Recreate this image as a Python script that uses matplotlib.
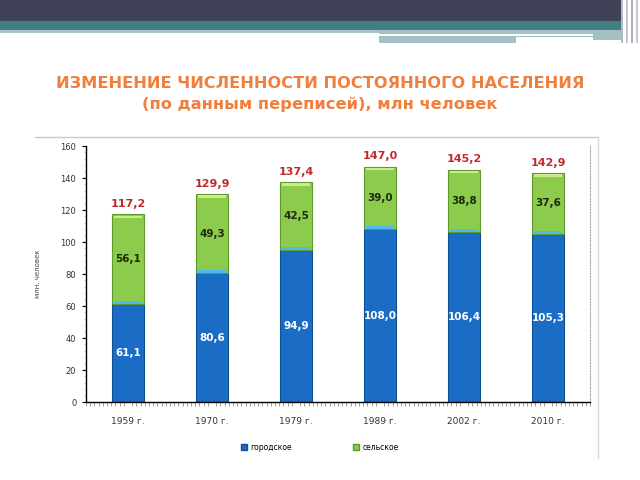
import matplotlib
matplotlib.use("Agg")
import matplotlib.pyplot as plt
from matplotlib.patches import Rectangle
import numpy as np

years = ["1959 г.", "1970 г.", "1979 г.", "1989 г.", "2002 г.", "2010 г."]
urban = [61.1, 80.6, 94.9, 108.0, 106.4, 105.3]
rural = [56.1, 49.3, 42.5, 39.0, 38.8, 37.6]
totals = [117.2, 129.9, 137.4, 147.0, 145.2, 142.9]
yticks = [0, 20, 40, 60, 80, 100, 120, 140, 160]

def fmt(v):
    return f"{v:.1f}".replace(".", ",")

fig = plt.figure(figsize=(6.4, 4.8), dpi=100)
W, H = 640, 480
def R(x, y, w, h, c, **kw):
    fig.patches.append(Rectangle((x / W, 1 - (y + h) / H), w / W, h / H,
                                 transform=fig.transFigure, color=c, lw=0, **kw))

# slide header
R(0, 0, 621, 21, "#404257")
R(0, 21, 622, 9, "#437f82")
R(0, 30, 379, 3, "#a7c4c6")
R(379, 30, 243, 10, "#a3c1c3")
R(379, 34, 214, 2, "#ffffff")
R(379, 37, 214, 3, "#ffffff")
R(379, 37, 137, 6, "#a6c0c3")
for xx, c in [(621, "#b8b8c4"), (626, "#c4c4ce"), (631, "#b0b0bc"), (636, "#c8c8d2")]:
    R(xx, 0, 1.5, 43, c)

# title
fig.text(0.5, 1 - 83 / H, "ИЗМЕНЕНИЕ ЧИСЛЕННОСТИ ПОСТОЯННОГО НАСЕЛЕНИЯ",
         ha="center", va="center", color="#f07f3e", fontsize=11.7,
         fontweight="bold", family="DejaVu Sans")
fig.text(0.5, 1 - 104 / H, "(по данным переписей), млн человек",
         ha="center", va="center", color="#f07f3e", fontsize=11.7,
         fontweight="bold", family="DejaVu Sans")

# chart frame
fig.lines.append(plt.Line2D([35 / W, 598 / W], [1 - 137 / H] * 2,
                            transform=fig.transFigure, color="#c8c8c8", lw=1))
fig.lines.append(plt.Line2D([598 / W] * 2, [1 - 137 / H, 1 - 458 / H],
                            transform=fig.transFigure, color="#d8d8d8", lw=1))

ax = fig.add_axes([86 / W, 1 - 402 / H, (590 - 86) / W, (402 - 146) / H])
x = np.arange(len(years))
bw = 0.38
ax.bar(x, urban, bw, color="#1a6cc4", edgecolor="#0f4f94", lw=0.8, zorder=2)
ax.bar(x, rural, bw, bottom=urban, color="#8dcb4c", edgecolor="#5f9a2e",
       lw=0.8, zorder=2)
# highlight bands
ax.bar(x, [1.8] * len(x), bw * 0.9, bottom=urban, color="#4fb8ee", lw=0, zorder=3)
ax.bar(x, [1.5] * len(x), bw * 0.9,
       bottom=[u + r - 2.2 for u, r in zip(urban, rural)],
       color="#c8ec8c", lw=0, zorder=3)

for i in range(len(x)):
    ax.text(x[i], urban[i] / 2, fmt(urban[i]), ha="center", va="center",
            color="white", fontsize=7.5, fontweight="bold", zorder=4)
    ax.text(x[i], urban[i] + rural[i] / 2, fmt(rural[i]), ha="center",
            va="center", color="#1b2a10", fontsize=7.5, fontweight="bold", zorder=4)
    ax.text(x[i], totals[i] + 3.5, fmt(totals[i]), ha="center", va="bottom",
            color="#c0282d", fontsize=8, fontweight="bold", zorder=4)

ax.set_xlim(-0.5, len(x) - 0.5)
ax.set_ylim(0, 160)
ax.set_yticks(yticks)
ax.set_yticklabels([str(t) for t in yticks], fontsize=6, color="#333333")
ax.set_yticks(np.arange(0, 161, 4), minor=True)
ax.set_xticks(x)
ax.set_xticklabels(years, fontsize=6.5, color="#333333")
ax.set_xticks(np.linspace(-0.5, len(x) - 0.5, 121), minor=True)
ax.tick_params(axis="x", which="major", length=0, pad=11)
ax.tick_params(axis="x", which="minor", length=3, width=0.5, color="#777777", direction="out")
ax.tick_params(axis="y", which="major", length=3, width=0.8, pad=4)
ax.tick_params(axis="y", which="minor", length=1.5, width=0.4, color="#999999")
ax.spines["top"].set_visible(False)
ax.spines["right"].set_linestyle((0, (1, 1.5)))
ax.spines["right"].set_color("#aaaaaa")
ax.spines["right"].set_linewidth(0.8)
ax.spines["left"].set_linewidth(1.0)
ax.spines["bottom"].set_linewidth(1.0)
ax.set_ylabel("млн. человек", fontsize=5, color="#444444", labelpad=14)

# legend
handles = [Rectangle((0, 0), 1, 1, color="#1a6cc4", ec="#0f4f94"),
           Rectangle((0, 0), 1, 1, color="#8dcb4c", ec="#5f9a2e")]
fig.legend(handles, ["городское", "сельское"], loc="center",
           bbox_to_anchor=(0.5, 1 - 447 / H), ncol=2, frameon=False,
           fontsize=5.5, handlelength=0.7, handleheight=0.7,
           columnspacing=8, handletextpad=0.5)

fig.savefig("out.png", dpi=100)
